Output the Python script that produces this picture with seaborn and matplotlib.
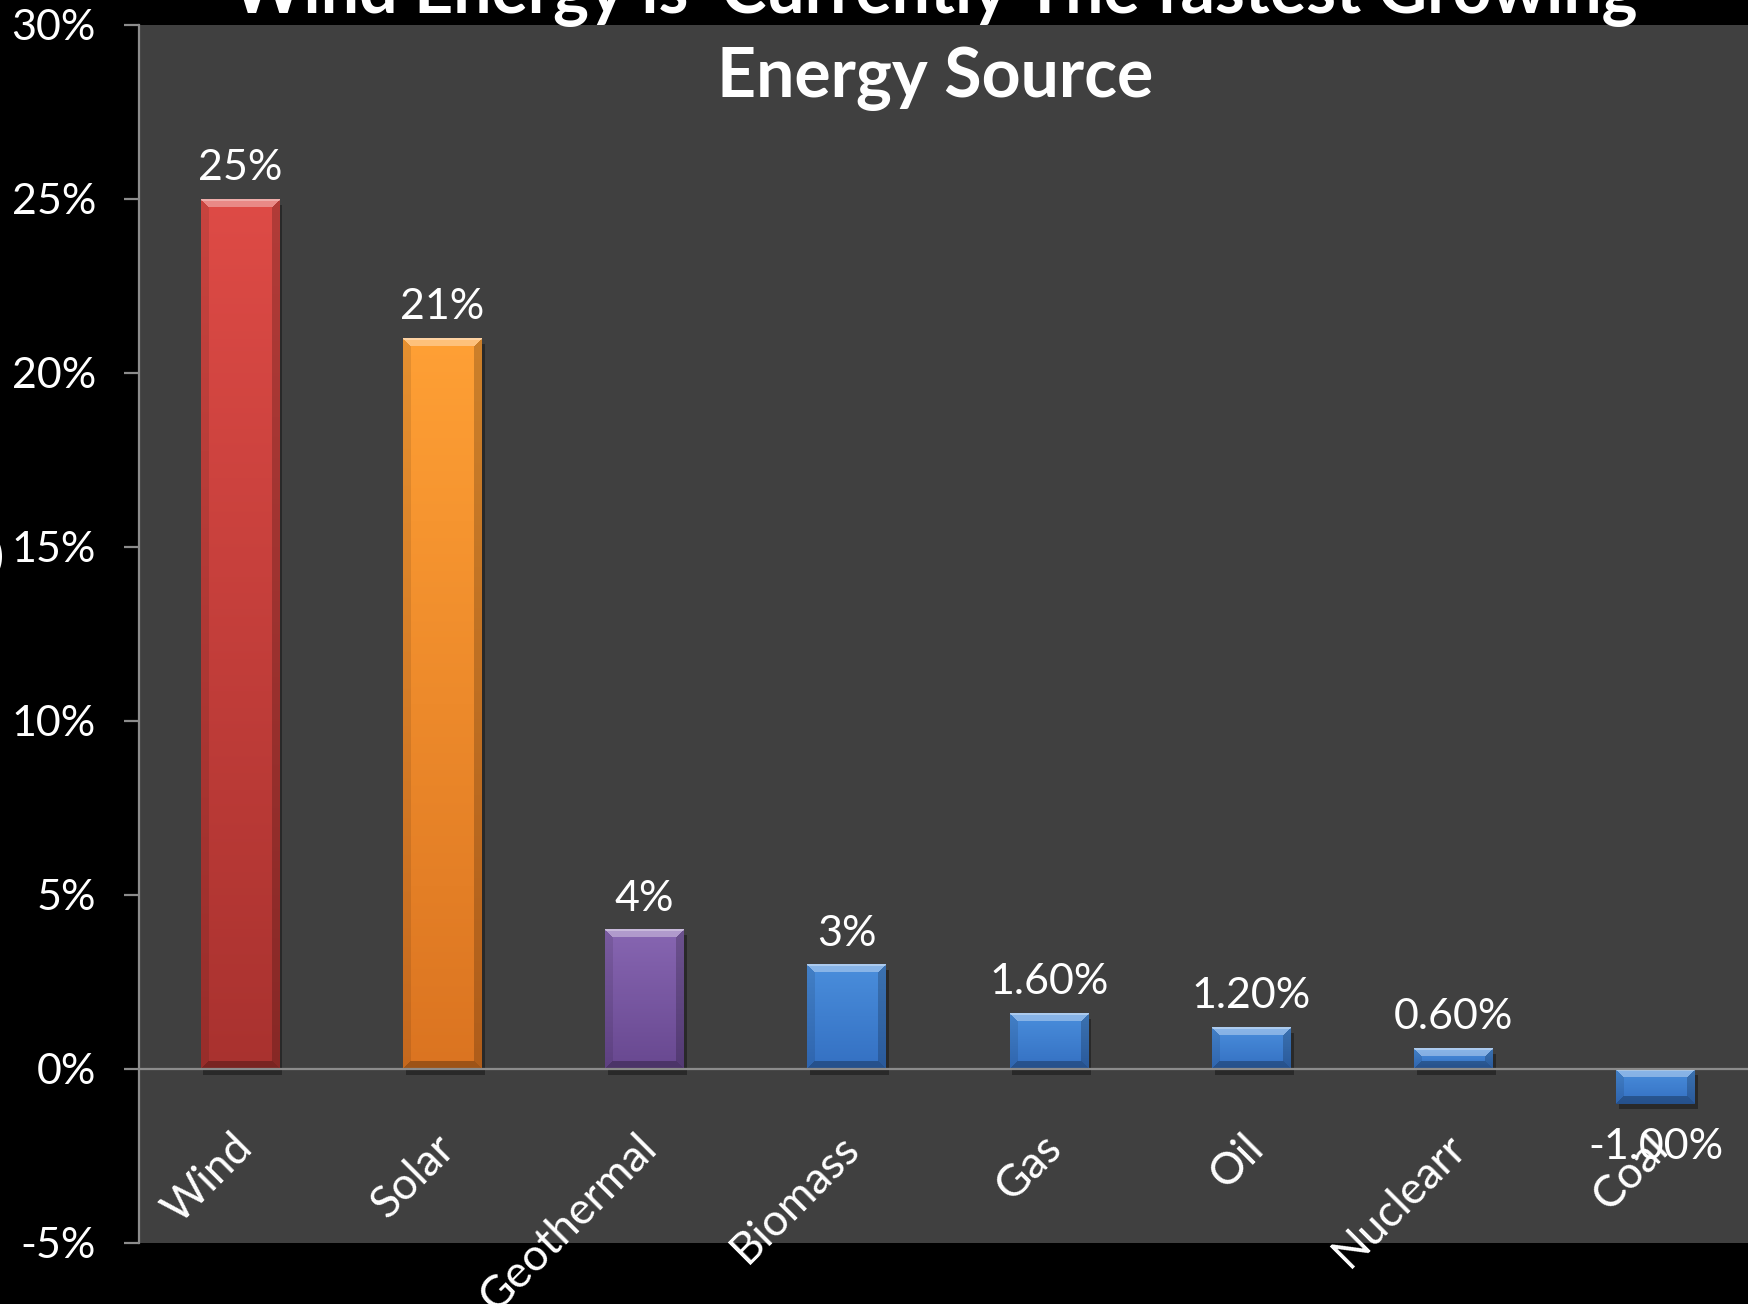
import numpy as np
import matplotlib
matplotlib.use("Agg")
import matplotlib.pyplot as plt
import matplotlib.patheffects as pe
from matplotlib.ticker import FuncFormatter, MultipleLocator
from matplotlib.transforms import ScaledTranslation
import seaborn as sns

# ---- data ----
categories = ["Wind", "Solar", "Geothermal", "Biomass", "Gas", "Oil", "Nuclearr", "Coal"]
growth_pct = [25, 21, 4, 3, 1.6, 1.2, 0.6, -1.0]
value_labels = ["25%", "21%", "4%", "3%", "1.60%", "1.20%", "0.60%", "-1.00%"]
bar_top_colors = ["#DE4B46", "#FFA035", "#8766B2", "#4A8EDC", "#4A8EDC", "#4A8EDC", "#4A8EDC", "#4A8EDC"]
bar_bottom_colors = ["#A9322F", "#DB7421", "#684890", "#3470C2", "#3470C2", "#3470C2", "#3470C2", "#3470C2"]
title_line1 = "Wind Energy is  Currently The fastest Growing"
title_line2 = "Energy Source"

sns.set_theme(style="dark")
plt.rcParams["font.family"] = ["Lato", "DejaVu Sans"]
plt.rcParams["axes.unicode_minus"] = False

W_PX, H_PX, DPI = 1749, 1304, 100
fig = plt.figure(figsize=(W_PX / DPI, H_PX / DPI), dpi=DPI, facecolor="black")
ax = fig.add_axes([139 / W_PX, (H_PX - 1243) / H_PX, 1618 / W_PX, 1218 / H_PX])
ax.set_facecolor("#404040")

sns.barplot(x=categories, y=growth_pct, hue=categories, palette=bar_top_colors,
            legend=False, width=0.39, ax=ax, saturation=1)
ax.set_xlim(-0.5, len(categories) - 0.5)
ax.set_ylim(-5, 30)
ax.set_autoscale_on(False)
ax.set_xlabel("")
ax.set_ylabel("")
ax.grid(False)

# axes styling
for side in ["top", "right"]:
    ax.spines[side].set_visible(False)
ax.spines["left"].set_color("#8C8C8C")
ax.spines["left"].set_linewidth(1.6)
ax.spines["bottom"].set_position(("data", 0))
ax.spines["bottom"].set_color("#8C8C8C")
ax.spines["bottom"].set_linewidth(1.6)
ax.spines["bottom"].set_zorder(5)

ax.yaxis.set_major_locator(MultipleLocator(5))
ax.yaxis.set_major_formatter(FuncFormatter(lambda v, p: f"{v:.0f}%"))
ax.tick_params(axis="y", direction="out", length=11, width=1.6, color="#8C8C8C",
               labelcolor="white", labelsize=31, pad=20, left=True)
ax.tick_params(axis="x", length=0, labelcolor="white", labelsize=32, pad=52)
ax.set_xticks(range(len(categories)))
ax.set_xticklabels(categories)
shift = ScaledTranslation(6 / DPI, 0, fig.dpi_scale_trans)
for lab in ax.get_xticklabels():
    lab.set_rotation(45)
    lab.set_ha("right")
    lab.set_va("center")
    lab.set_rotation_mode("anchor")
    lab.set_transform(lab.get_transform() + shift)


def bevel_image(w, h, top, bottom, b=8):
    """RGB array for a bevelled bar face of w x h pixels."""
    top = np.array(matplotlib.colors.to_rgb(top))
    bottom = np.array(matplotlib.colors.to_rgb(bottom))
    t = np.linspace(0, 1, h)[:, None, None]
    img = (top * (1 - t) + bottom * t) * np.ones((h, w, 3))
    rows = np.arange(h)[:, None] * np.ones((1, w))
    cols = np.ones((h, 1)) * np.arange(w)[None, :]
    d = np.stack([rows, h - 1 - rows, cols, w - 1 - cols])
    side = d.argmin(axis=0)
    near = d.min(axis=0) < b
    light = np.array([1.0, 1.0, 1.0])
    img[near & (side == 0)] = img[near & (side == 0)] * 0.65 + light * 0.35
    img[near & (side == 1)] *= 0.72
    img[near & (side == 2)] *= 0.9
    img[near & (side == 3)] *= 0.8
    img[0:2, :, :] = img[0:2, :, :] * 0.7 + light * 0.3
    return np.clip(img, 0, 1)


bars = list(ax.patches)
for patch, val, lab, c_top, c_bot in zip(bars, growth_pct, value_labels,
                                          bar_top_colors, bar_bottom_colors):
    patch.set_facecolor(c_bot)
    patch.set_edgecolor("none")
    patch.set_path_effects([pe.SimplePatchShadow(offset=(2, -4), shadow_rgbFace="black", alpha=0.35),
                            pe.Normal()])
    x0 = patch.get_x()
    w = patch.get_width()
    y_lo, y_hi = sorted([patch.get_y(), patch.get_y() + patch.get_height()])
    p0 = ax.transData.transform((x0, y_lo))
    p1 = ax.transData.transform((x0 + w, y_hi))
    pw = max(int(round(p1[0] - p0[0])), 2)
    ph = max(int(round(p1[1] - p0[1])), 2)
    img = bevel_image(pw, ph, c_top, c_bot)
    ax.imshow(img, extent=(x0, x0 + w, y_lo, y_hi), aspect="auto", origin="upper",
              interpolation="nearest", zorder=patch.get_zorder() + 0.1)

    cx = x0 + w / 2
    if val >= 0:
        ax.annotate(lab, (cx, val), xytext=(0, 12), textcoords="offset pixels",
                    ha="center", va="bottom", color="white", fontsize=31, zorder=6)
    else:
        ax.annotate(lab, (cx, val), xytext=(0, -24), textcoords="offset pixels",
                    ha="center", va="top", color="white", fontsize=31, zorder=6)

# partially visible axis caption at the far left
fig.text(4 / W_PX, (H_PX - 557) / H_PX, "Growth (%)", ha="right", va="center",
         color="white", fontsize=31)

# title (two lines)
fig.text(935 / W_PX, 1 - 13 / H_PX, title_line1, ha="center", va="baseline",
         color="white", fontsize=49, fontweight="bold", zorder=10)
fig.text(935 / W_PX, 1 - 97 / H_PX, title_line2, ha="center", va="baseline",
         color="white", fontsize=49, fontweight="bold", zorder=10)

fig.savefig("out.png", dpi=DPI, facecolor="black")
